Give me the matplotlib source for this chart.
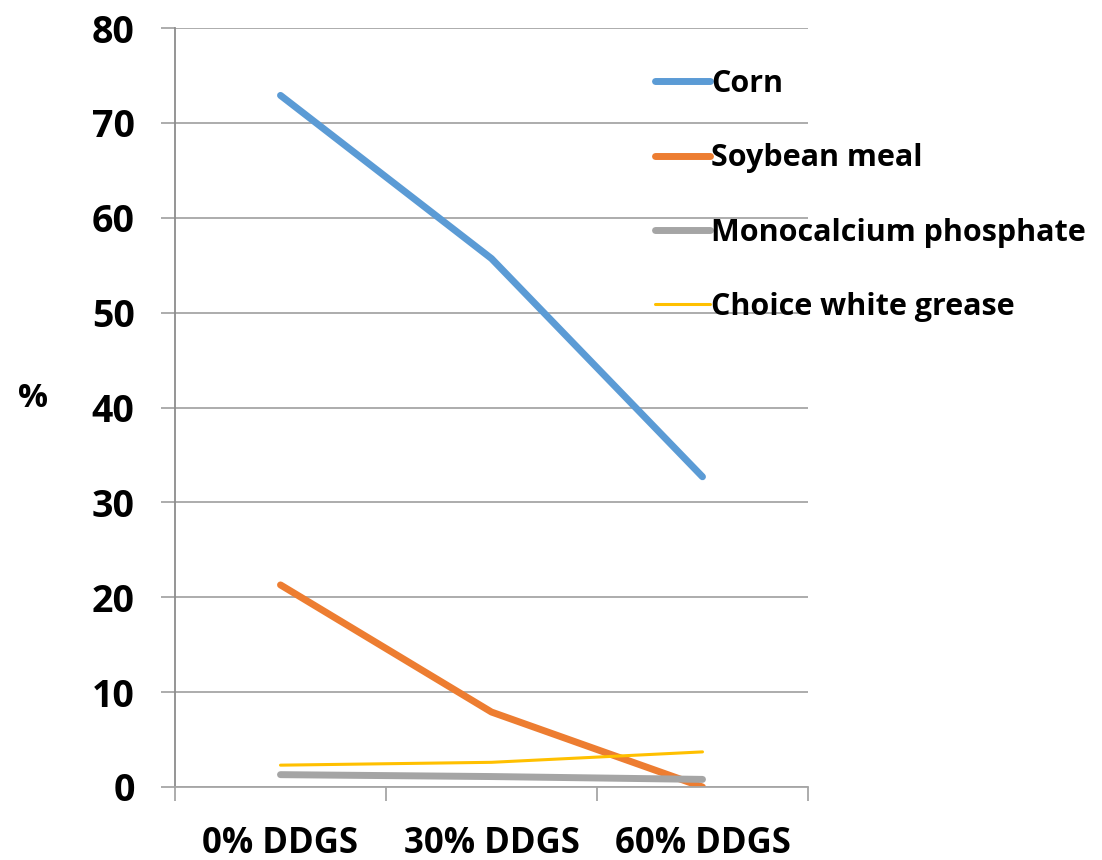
import matplotlib
matplotlib.use('Agg')
import matplotlib.pyplot as plt
from matplotlib.ticker import FixedLocator

plt.rcParams.update({'font.family': ['Open Sans', 'DejaVu Sans'], 'font.weight': 'bold'})

categories = ['0% DDGS', '30% DDGS', '60% DDGS']
corn = [72.9, 55.7, 32.7]
soybean_meal = [21.3, 7.9, 0.0]
monocalcium = [1.3, 1.1, 0.8]
grease = [2.3, 2.6, 3.7]

series = [
    ('Corn', corn, '#5B9BD5', 5.0),
    ('Soybean meal', soybean_meal, '#ED7D31', 5.0),
    ('Monocalcium phosphate', monocalcium, '#A5A5A5', 5.0),
    ('Choice white grease', grease, '#FFC000', 2.2),
]

fig = plt.figure(figsize=(11.02, 8.6), dpi=100)
ax = fig.add_axes([0.1588, 0.0849, 0.7332 - 0.1588, 0.9674 - 0.0849])

x = list(range(len(categories)))
for name, vals, color, lw in series:
    ax.plot(x, vals, color=color, lw=lw, solid_capstyle='round', label=name)

ax.set_xlim(-0.5, len(categories) - 0.5)
ax.set_ylim(0, 80)
ax.set_yticks(range(0, 81, 10))
ax.yaxis.grid(True, color='#A6A6A6', lw=1.3)
ax.set_axisbelow(True)

# category labels centred, tick marks on the boundaries between categories
ax.set_xticks(x)
ax.set_xticklabels(categories, fontsize=25, fontweight='bold')
ax.xaxis.set_minor_locator(FixedLocator([i - 0.5 for i in range(len(categories) + 1)]))
ax.tick_params(axis='x', which='major', length=0, pad=28)
ax.tick_params(axis='x', which='minor', length=10, width=1.3, color='#A6A6A6')
ax.tick_params(axis='y', length=10, width=1.3, color='#A6A6A6', labelsize=27, pad=19)
for lbl in ax.get_yticklabels():
    lbl.set_fontweight('bold')

for side in ['top', 'right']:
    ax.spines[side].set_visible(False)
ax.spines['left'].set_color('#8C8C8C')
ax.spines['left'].set_linewidth(1.3)
ax.spines['bottom'].set_color('#A6A6A6')
ax.spines['bottom'].set_linewidth(1.3)

fig.text(0.03, 0.537, '%', fontsize=24, fontweight='bold', ha='center', va='center')

leg = fig.legend(loc='upper left', bbox_to_anchor=(0.583, 0.934), frameon=False,
                 fontsize=22, handlelength=1.8, handletextpad=0.05, labelspacing=1.45,
                 borderaxespad=0)
for t in leg.get_texts():
    t.set_fontweight('bold')

fig.savefig('out.png', dpi=100)
